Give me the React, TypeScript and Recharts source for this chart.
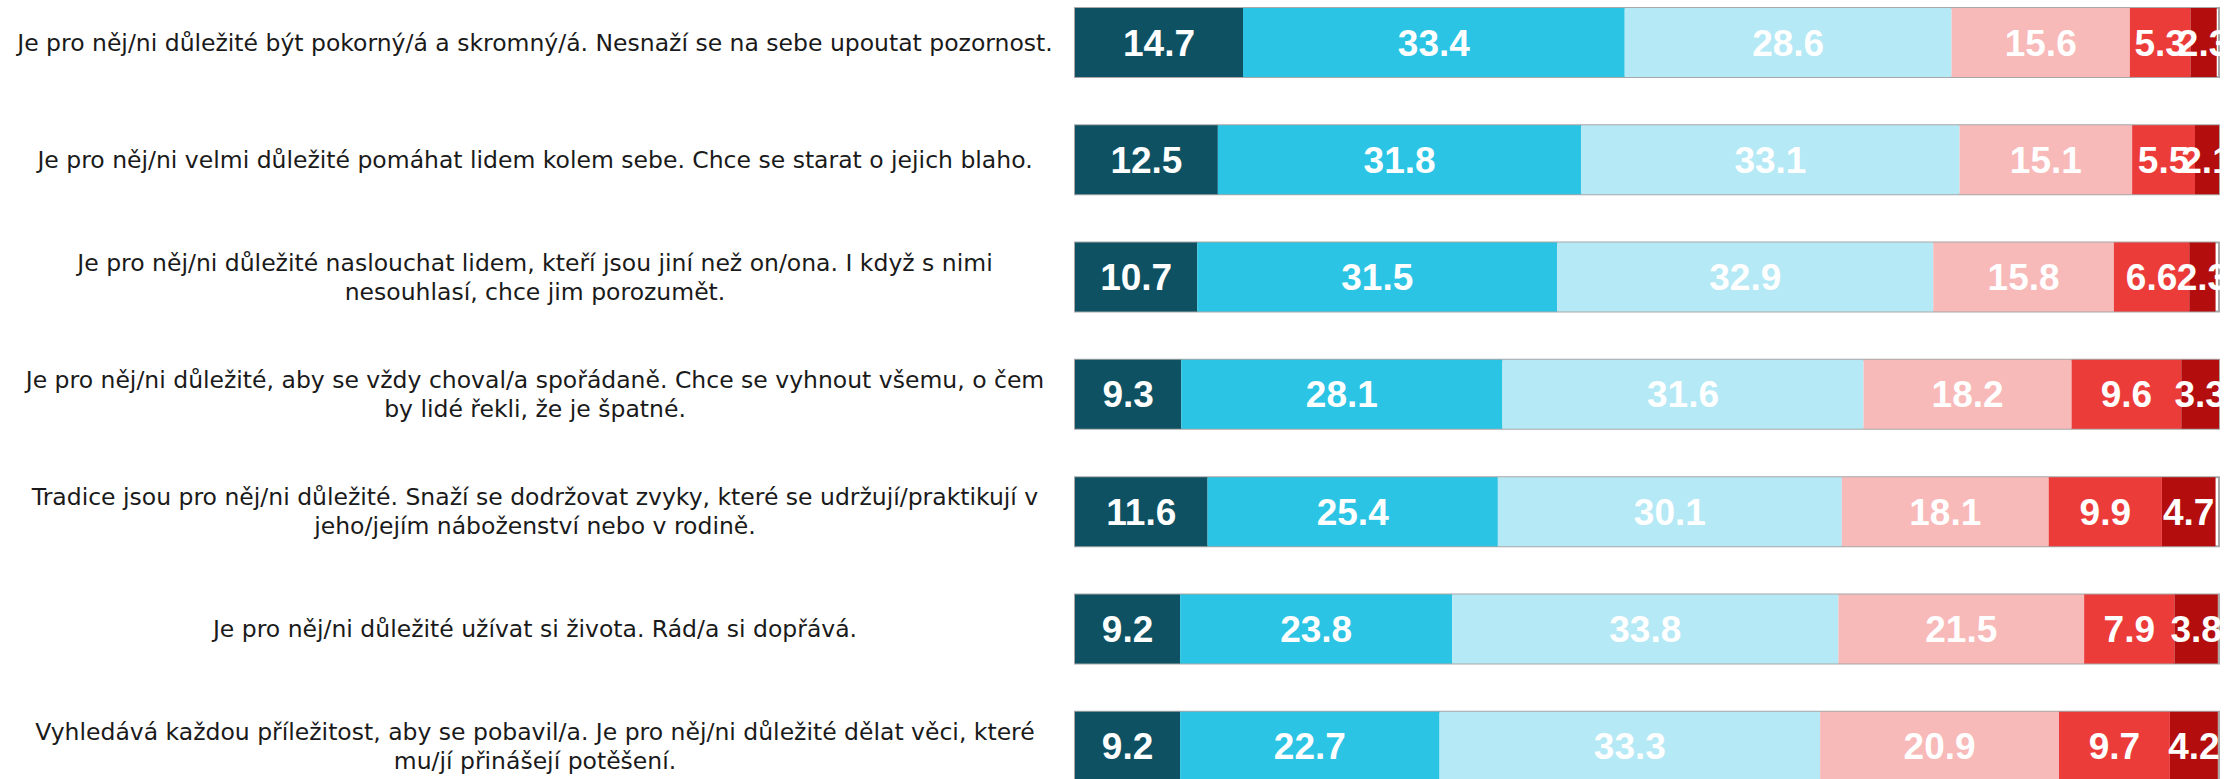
import { BarChart, Bar, XAxis, YAxis, LabelList } from "recharts";

const statements: string[] = [
  "Je pro něj/ni důležité být pokorný/á a skromný/á. Nesnaží se na sebe upoutat pozornost.",
  "Je pro něj/ni velmi důležité pomáhat lidem kolem sebe. Chce se starat o jejich blaho.",
  "Je pro něj/ni důležité naslouchat lidem, kteří jsou jiní než on/ona. I když s nimi\nnesouhlasí, chce jim porozumět.",
  "Je pro něj/ni důležité, aby se vždy choval/a spořádaně. Chce se vyhnout všemu, o čem\nby lidé řekli, že je špatné.",
  "Tradice jsou pro něj/ni důležité. Snaží se dodržovat zvyky, které se udržují/praktikují v\njeho/jejím náboženství nebo v rodině.",
  "Je pro něj/ni důležité užívat si života. Rád/a si dopřává.",
  "Vyhledává každou příležitost, aby se pobavil/a. Je pro něj/ni důležité dělat věci, které\nmu/jí přinášejí potěšení.",
];

// six answer levels, from "very much like me" to "not like me at all"
const level1 = [14.7, 12.5, 10.7, 9.3, 11.6, 9.2, 9.2];
const level2 = [33.4, 31.8, 31.5, 28.1, 25.4, 23.8, 22.7];
const level3 = [28.6, 33.1, 32.9, 31.6, 30.1, 33.8, 33.3];
const level4 = [15.6, 15.1, 15.8, 18.2, 18.1, 21.5, 20.9];
const level5 = [5.3, 5.5, 6.6, 9.6, 9.9, 7.9, 9.7];
const level6 = [2.3, 2.1, 2.3, 3.3, 4.7, 3.8, 4.2];

const seriesKeys = ["l1", "l2", "l3", "l4", "l5", "l6"];
const colors = ["#0d5163", "#2bc4e5", "#b5e9f5", "#f8b9b9", "#ec3c3a", "#b40d0e"];

const data = statements.map((name, i) => ({
  name,
  l1: level1[i],
  l2: level2[i],
  l3: level3[i],
  l4: level4[i],
  l5: level5[i],
  l6: level6[i],
}));

const CategoryTick = (props: any) => {
  const { y, payload } = props;
  const lines: string[] = String(payload.value).split("\n");
  const lh = 29;
  const start = y - ((lines.length - 1) * lh) / 2;
  return (
    <text
      x={535}
      y={start}
      textAnchor="middle"
      dominantBaseline="central"
      fill="#1a1a1a"
      fontSize={23.5}
      fontFamily="'DejaVu Sans', Verdana, sans-serif"
    >
      {lines.map((l, i) => (
        <tspan key={i} x={535} y={start + i * lh}>
          {l}
        </tspan>
      ))}
    </text>
  );
};

const App = () => {
  return (
    <div
      style={{
        position: "absolute",
        left: 0,
        top: 0,
        width: 2236,
        height: 779,
        overflow: "hidden",
        background: "#fff",
      }}
    >
      <div style={{ position: "relative", top: -16 }}>
        <BarChart
          width={2236}
          height={821}
          data={data}
          layout="vertical"
          margin={{ top: 0, right: 17, bottom: 0, left: 0 }}
          barSize={69}
        >
          <XAxis type="number" hide domain={[0, "dataMax"]} />
          <YAxis
            type="category"
            dataKey="name"
            width={1075}
            axisLine={false}
            tickLine={false}
            tick={<CategoryTick />}
            interval={0}
          />
          {seriesKeys.map((k, i) => (
            <Bar
              key={k}
              dataKey={k}
              stackId="a"
              fill={colors[i]}
              isAnimationActive={false}
              background={
                i === seriesKeys.length - 1
                  ? { fill: "none", stroke: "#a8a8a8", strokeWidth: 2 }
                  : undefined
              }
            >
              <LabelList
                dataKey={k}
                position="center"
                fill="#ffffff"
                fontSize={37}
                fontWeight="bold"
                fontFamily="'Liberation Sans Narrow', 'Arial Narrow', 'Liberation Sans', Arial, sans-serif"
                formatter={(v: any) => Number(v).toFixed(1)}
              />
            </Bar>
          ))}
        </BarChart>
      </div>
    </div>
  );
};

export default App;
